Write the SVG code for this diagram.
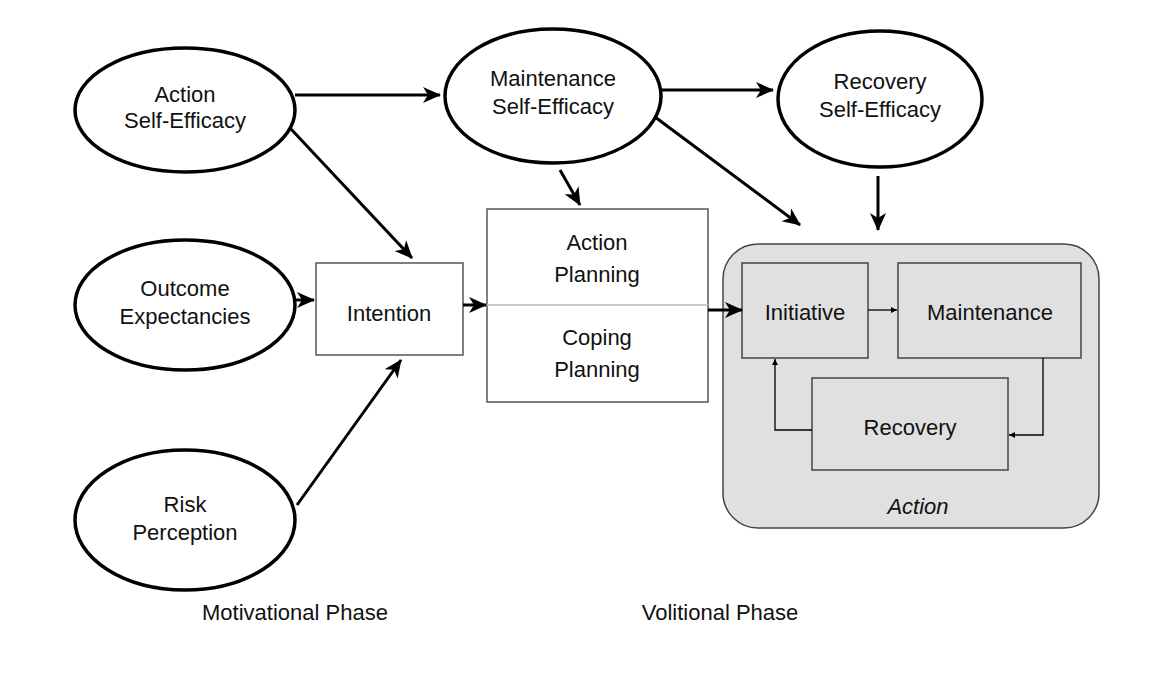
<svg xmlns="http://www.w3.org/2000/svg" width="1176" height="694" viewBox="0 0 1176 694">
<defs>
<marker id="a" markerWidth="10" markerHeight="10" refX="9" refY="5" orient="auto" markerUnits="userSpaceOnUse" viewBox="0 0 10 10"><path d="M0,0 L10,5 L0,10 L3,5 Z" fill="#000"/></marker>
<marker id="b" markerWidth="6" markerHeight="6" refX="6" refY="3" orient="auto" markerUnits="userSpaceOnUse" viewBox="0 0 6 6"><path d="M0,0 L6,3 L0,6 Z" fill="#000"/></marker>
<marker id="h" markerWidth="18" markerHeight="18" refX="17" refY="9" orient="auto" markerUnits="userSpaceOnUse" viewBox="0 0 18 18"><path d="M0,1 L18,9 L0,17 L5,9 Z" fill="#000"/></marker>
</defs>
<style>
text{font-family:"Liberation Sans",Arial,sans-serif;font-size:22px;fill:#111;text-anchor:middle}
.e{fill:#fff;stroke:#000;stroke-width:3.5}
.r{fill:#fff;stroke:#555;stroke-width:1.5}
.g{fill:#e0e0e0;stroke:#444;stroke-width:1.5}
.c{stroke:#000;stroke-width:3;fill:none}
.s{stroke:#000;stroke-width:1.3;fill:none}
</style>
<rect width="1176" height="694" fill="#fff"/>
<g id="action-box"><rect class="g" x="723" y="244" width="376" height="284" rx="35"/><text x="918" y="514" font-style="italic">Action</text></g>
<g id="ase"><ellipse class="e" cx="185" cy="110" rx="110" ry="62"/><text x="185" y="102">Action</text><text x="185" y="128">Self-Efficacy</text></g>
<g id="mse"><ellipse class="e" cx="553" cy="96" rx="108" ry="67"/><text x="553" y="86">Maintenance</text><text x="553" y="114">Self-Efficacy</text></g>
<g id="rse"><ellipse class="e" cx="880" cy="99" rx="102" ry="68"/><text x="880" y="89">Recovery</text><text x="880" y="117">Self-Efficacy</text></g>
<g id="oe"><ellipse class="e" cx="185" cy="305" rx="110" ry="65"/><text x="185" y="296">Outcome</text><text x="185" y="324">Expectancies</text></g>
<g id="rp"><ellipse class="e" cx="185" cy="520" rx="110" ry="70"/><text x="185" y="512">Risk</text><text x="185" y="540">Perception</text></g>
<g id="intention"><rect class="r" x="316" y="263" width="147" height="92"/><text x="389" y="321">Intention</text></g>
<g id="planning"><rect class="r" x="487" y="209" width="221" height="193"/><line x1="487" y1="305" x2="708" y2="305" stroke="#bbb" stroke-width="1.5"/><text x="597" y="250">Action</text><text x="597" y="282">Planning</text><text x="597" y="345">Coping</text><text x="597" y="377">Planning</text></g>
<g id="initiative"><rect class="g" x="742" y="263" width="126" height="95"/><text x="805" y="320">Initiative</text></g>
<g id="maintenance"><rect class="g" x="898" y="263" width="183" height="95"/><text x="990" y="320">Maintenance</text></g>
<g id="recovery"><rect class="g" x="812" y="378" width="196" height="92"/><text x="910" y="435">Recovery</text></g>
<g id="connectors">
<line class="c" x1="295" y1="95" x2="440" y2="95" marker-end="url(#h)"/>
<line class="c" x1="660" y1="90" x2="773" y2="90" marker-end="url(#h)"/>
<line class="c" x1="290" y1="128" x2="412" y2="258" marker-end="url(#h)"/>
<line class="c" x1="560" y1="170" x2="580" y2="205" marker-end="url(#h)"/>
<line class="c" x1="655" y1="117" x2="800" y2="225" marker-end="url(#h)"/>
<line class="c" x1="878" y1="176" x2="878" y2="230" marker-end="url(#h)"/>
<line class="c" x1="295" y1="300" x2="314" y2="300" marker-end="url(#h)"/>
<line class="c" x1="297" y1="505" x2="401" y2="360" marker-end="url(#h)"/>
<line class="c" x1="463" y1="305" x2="486" y2="305" marker-end="url(#h)"/>
<line class="c" x1="708" y1="310" x2="742" y2="310" marker-end="url(#h)"/>
<line class="s" x1="868" y1="310" x2="897" y2="310" marker-end="url(#b)"/>
<polyline class="s" points="1043,358 1043,435 1009,435" marker-end="url(#b)"/>
<polyline class="s" points="812,430 775,430 775,359" marker-end="url(#b)"/>
</g>
<text x="295" y="620">Motivational Phase</text>
<text x="720" y="620">Volitional Phase</text>
</svg>
